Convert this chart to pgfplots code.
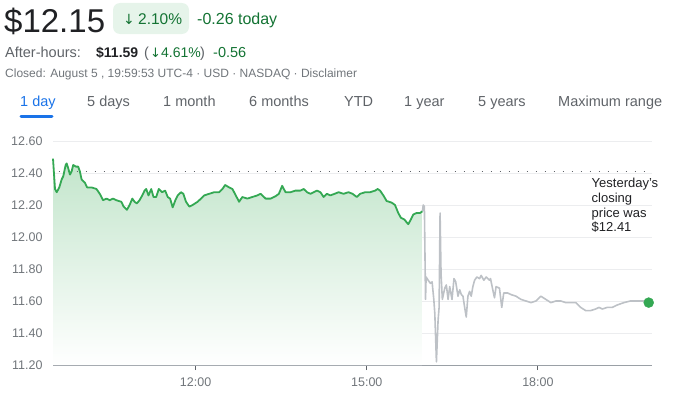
\documentclass[border=0pt]{standalone}
\usepackage{fontspec}
\setmainfont{Liberation Sans}
\newfontfamily\symfont{DejaVu Sans}
\usepackage{pgfplots}
\usepackage{pgfplotstable}
\pgfplotsset{compat=1.18}
\definecolor{gtext}{HTML}{202124}
\definecolor{ggray}{HTML}{5F6368}
\definecolor{glight}{HTML}{70757A}
\definecolor{ggreen}{HTML}{137333}
\definecolor{gbox}{HTML}{E6F4EA}
\definecolor{gline}{HTML}{34A853}
\definecolor{gfill}{HTML}{C2E5CB}
\definecolor{ahgray}{HTML}{BDC1C6}
\definecolor{gblue}{HTML}{1A73E8}
\definecolor{gridc}{HTML}{ECEDEF}
\definecolor{axisc}{HTML}{9AA0A6}
\definecolor{dotc}{HTML}{5F6368}

\pgfplotstableread{
t p
9.500 12.49
9.535 12.30
9.565 12.28
9.610 12.31
9.652 12.36
9.680 12.38
9.722 12.45
9.739 12.46
9.767 12.43
9.797 12.39
9.826 12.41
9.854 12.45
9.901 12.44
9.941 12.44
9.971 12.41
10.001 12.36
10.058 12.34
10.098 12.31
10.175 12.31
10.262 12.30
10.320 12.27
10.377 12.23
10.437 12.24
10.494 12.23
10.552 12.24
10.611 12.23
10.698 12.22
10.738 12.19
10.796 12.17
10.843 12.20
10.890 12.24
10.930 12.22
10.970 12.21
11.017 12.23
11.065 12.26
11.105 12.29
11.134 12.30
11.174 12.26
11.222 12.30
11.262 12.25
11.309 12.25
11.354 12.30
11.413 12.28
11.466 12.29
11.511 12.25
11.553 12.24
11.598 12.185
11.645 12.23
11.686 12.26
11.745 12.28
11.785 12.27
11.832 12.22
11.890 12.19
11.947 12.20
12.034 12.22
12.094 12.24
12.151 12.26
12.238 12.27
12.326 12.28
12.413 12.28
12.470 12.30
12.517 12.325
12.587 12.31
12.645 12.30
12.704 12.26
12.762 12.22
12.819 12.25
12.906 12.24
12.994 12.25
13.081 12.26
13.140 12.27
13.227 12.24
13.315 12.24
13.402 12.255
13.459 12.27
13.517 12.32
13.576 12.28
13.663 12.28
13.751 12.29
13.838 12.29
13.895 12.30
13.953 12.28
14.012 12.27
14.070 12.28
14.127 12.29
14.187 12.28
14.244 12.25
14.302 12.27
14.361 12.26
14.436 12.27
14.506 12.28
14.593 12.27
14.680 12.28
14.750 12.27
14.825 12.25
14.884 12.27
14.972 12.28
15.059 12.28
15.146 12.29
15.191 12.30
15.233 12.29
15.291 12.26
15.348 12.225
15.436 12.215
15.495 12.20
15.552 12.15
15.599 12.12
15.657 12.11
15.727 12.08
15.774 12.11
15.814 12.14
15.872 12.15
15.931 12.15
15.975 12.16
}\greendata

\pgfplotstableread{
t p
15.975 12.16
15.990 12.20
16.010 12.19
16.025 11.75
16.030 11.61
16.040 11.75
16.076 11.73
16.116 11.71
16.145 11.72
16.175 11.61
16.193 11.52
16.221 11.22
16.250 11.48
16.268 11.56
16.285 12.15
16.302 11.77
16.325 11.61
16.367 11.68
16.395 11.70
16.425 11.61
16.454 11.69
16.494 11.61
16.529 11.74
16.559 11.72
16.599 11.63
16.629 11.67
16.657 11.64
16.686 11.63
16.716 11.56
16.744 11.50
16.773 11.63
16.803 11.66
16.831 11.63
16.860 11.69
16.890 11.73
16.930 11.75
16.977 11.74
17.005 11.76
17.052 11.73
17.093 11.75
17.152 11.73
17.169 11.74
17.209 11.67
17.239 11.62
17.267 11.69
17.326 11.68
17.366 11.56
17.401 11.65
17.471 11.65
17.529 11.64
17.616 11.63
17.703 11.61
17.791 11.60
17.878 11.59
17.965 11.60
18.052 11.63
18.139 11.61
18.227 11.59
18.314 11.60
18.401 11.60
18.488 11.59
18.576 11.59
18.663 11.59
18.750 11.56
18.837 11.54
18.924 11.54
19.012 11.55
19.071 11.56
19.128 11.55
19.215 11.56
19.302 11.56
19.390 11.575
19.507 11.59
19.622 11.60
19.738 11.60
19.855 11.60
19.942 11.59
}\graydata

\newcommand\fs[1]{\fontsize{#1bp}{#1bp}\selectfont}

\begin{document}
\begin{tikzpicture}[x=1bp,y=1bp]
\useasboundingbox (0,0) rectangle (688,396);
% header
\node[anchor=base west, inner sep=0, text=gtext] at (4,364) {\fs{33}\$12.15};
\fill[gbox, rounded corners=7bp] (113,362) rectangle (189,393);
\node[anchor=base west, inner sep=0, text=ggreen] at (123,372) {\fs{14}\symfont ↓};
\node[anchor=base west, inner sep=0, text=ggreen] at (138,372) {\fs{15.5}2.10\%};
\node[anchor=base west, inner sep=0, text=ggreen] at (197,372) {\fs{16}-0.26 today};
\node[anchor=base west, inner sep=0, text=ggray] at (5,339) {\fs{14.5}After-hours:};
\node[anchor=base west, inner sep=0, text=gtext] at (96,339) {\fs{14}\bfseries \$11.59};
\node[anchor=base west, inner sep=0, text=ggray] at (144,339) {\fs{14.5}(};
\node[anchor=base west, inner sep=0, text=ggreen] at (150,339) {\fs{13}\symfont ↓};
\node[anchor=base west, inner sep=0, text=ggreen] at (161,339) {\fs{14}4.61\%};
\node[anchor=base west, inner sep=0, text=ggray] at (200,339) {\fs{14.5})};
\node[anchor=base west, inner sep=0, text=ggreen] at (213,339) {\fs{14.5}-0.56};
\node[anchor=base west, inner sep=0, text=glight] at (5,319) {\fs{12}Closed: August 5 , 19:59:53 UTC-4 · USD · NASDAQ · Disclaimer};
% tabs
\node[anchor=base west, inner sep=0, text=gblue] at (20,290) {\fs{14.5}1 day};
\node[anchor=base west, inner sep=0, text=ggray] at (87,290) {\fs{14.5}5 days};
\node[anchor=base west, inner sep=0, text=ggray] at (163,290) {\fs{14.5}1 month};
\node[anchor=base west, inner sep=0, text=ggray] at (249,290) {\fs{14.5}6 months};
\node[anchor=base west, inner sep=0, text=ggray] at (344,290) {\fs{14.5}YTD};
\node[anchor=base west, inner sep=0, text=ggray] at (404,290) {\fs{14.5}1 year};
\node[anchor=base west, inner sep=0, text=ggray] at (478,290) {\fs{14.5}5 years};
\node[anchor=base west, inner sep=0, text=ggray] at (558,290) {\fs{14.5}Maximum range};
\draw[gblue, line width=3bp, line cap=round] (21,279.5) -- (52,279.5);

\begin{axis}[
  at={(53bp,31bp)}, anchor=south west,
  scale only axis, width=599bp, height=224bp,
  xmin=9.5, xmax=20, ymin=11.2, ymax=12.6,
  clip=false,
  axis x line=bottom, axis y line=left,
  x axis line style={-, draw=axisc, line width=1bp},
  y axis line style={draw=none},
  xtick={12,15,18}, xticklabels={12:00,15:00,18:00},
  xtick style={draw=ggray, line width=1bp},
  tick align=outside, major tick length=5bp,
  ytick={11.2,11.4,11.6,11.8,12.0,12.2,12.4,12.6},
  yticklabel={\pgfmathprintnumber[fixed,fixed zerofill,precision=2]{\tick}},
  /pgf/number format/assume math mode=true,
  ymajorgrids, major grid style={draw=gridc, line width=1bp},
  ytick style={draw=none},
  yticklabel style={font=\fs{12.5}, text=glight, anchor=east, xshift=-2bp},
  xticklabel style={font=\fs{12.5}, text=glight, yshift=-4bp},
]
\addplot[draw=none, top color=gfill, bottom color=white, forget plot]
  table[x=t,y=p] {\greendata} -- (axis cs:15.975,11.2) -- (axis cs:9.5,11.2) -- cycle;
\addplot[dotc, line width=1.3bp, dash pattern=on 1.3bp off 7.7bp, forget plot] coordinates {(9.6,12.41) (19.9,12.41)};
\addplot[ahgray, line width=1.6bp, line join=round, forget plot] table[x=t,y=p] {\graydata};
\addplot[gline, line width=1.8bp, line join=round, forget plot] table[x=t,y=p] {\greendata};
\addplot[only marks, mark=*, mark size=5bp, color=gline, forget plot] coordinates {(19.942,11.59)};
\end{axis}
\node[anchor=base west, inner sep=0, text=gtext] at (591.5,208.3) {\fs{13}Yesterday's};
\node[anchor=base west, inner sep=0, text=gtext] at (591.5,193.7) {\fs{13}closing};
\node[anchor=base west, inner sep=0, text=gtext] at (591.5,178.9) {\fs{13}price was};
\node[anchor=base west, inner sep=0, text=gtext] at (591.5,164.3) {\fs{13}\$12.41};
\end{tikzpicture}
\end{document}
